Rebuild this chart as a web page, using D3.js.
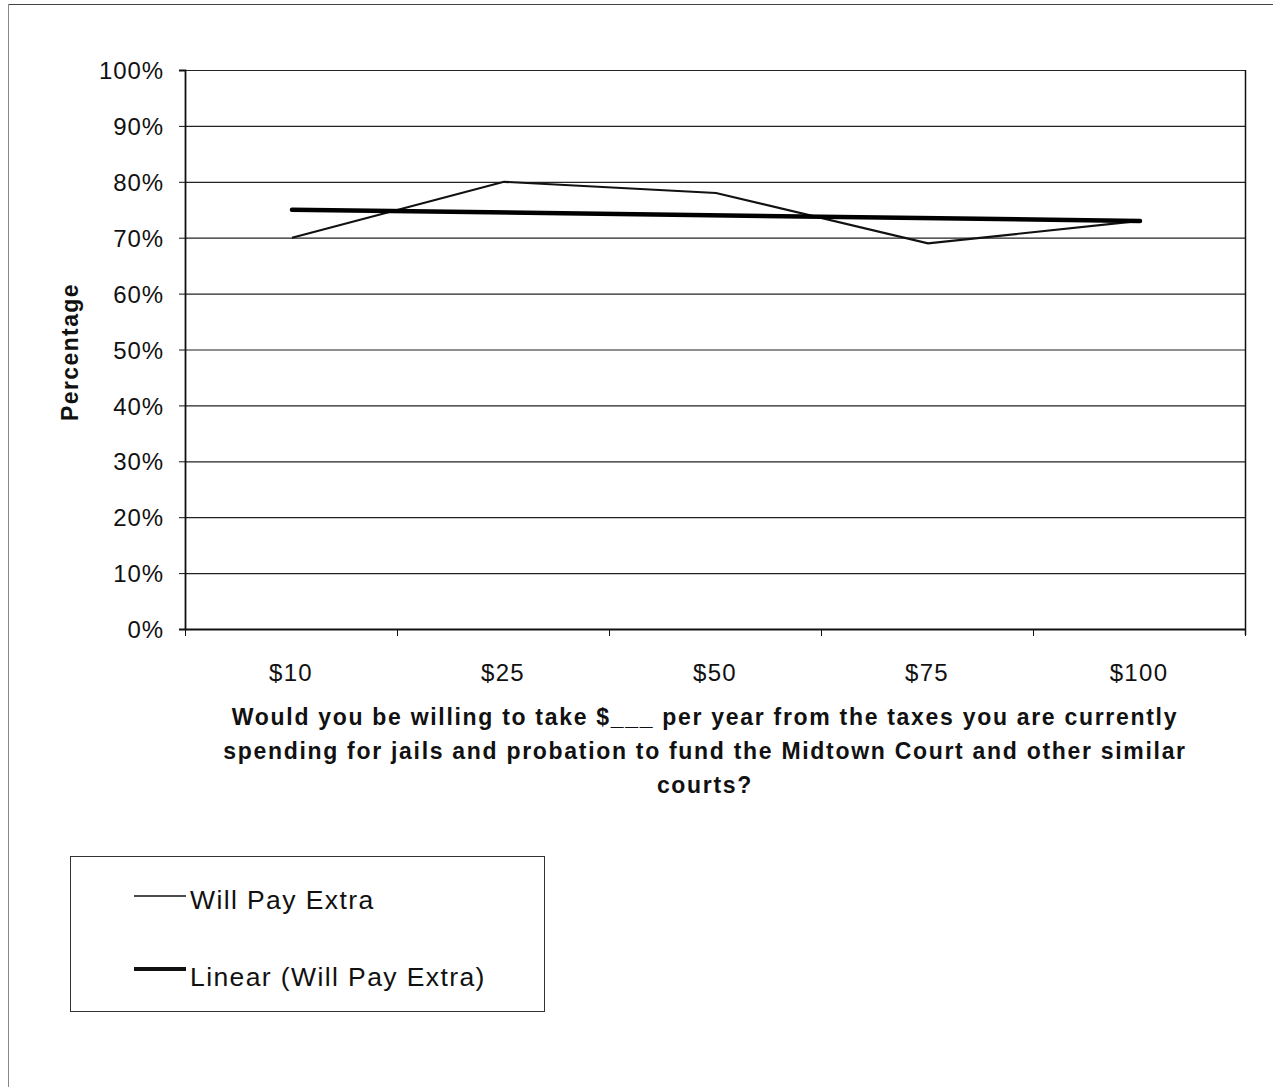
<!DOCTYPE html>
<html>
<head>
<meta charset="utf-8">
<script src="https://cdn.jsdelivr.net/npm/d3@7"></script>
<style>
  html, body { margin: 0; padding: 0; background: #fff; }
  svg text { font-family: "Liberation Sans", Arial, sans-serif; fill: #111; }
</style>
</head>
<body>
<svg id="chart" width="1273" height="1087"></svg>
<script>
// Survey answers: share of respondents willing to redirect each amount
const categories = ["$10", "$25", "$50", "$75", "$100"];
const willPayExtra = [70, 80, 78, 69, 73];
const yTicks = [0, 10, 20, 30, 40, 50, 60, 70, 80, 90, 100];
const seriesName = "Will Pay Extra";
const trendName = "Linear (Will Pay Extra)";
const yTitle = "Percentage";
const xTitleLines = [
  "Would you be willing to take $___ per year from the taxes you are currently",
  "spending for jails and probation to fund the Midtown Court and other similar",
  "courts?"
];

const svg = d3.select("#chart");
const plot = { left: 185, right: 1245, top: 70, bottom: 629 };
const FONT = "'Liberation Sans', Arial, sans-serif";

// Outer frame
svg.append("line").attr("x1", 8).attr("x2", 1273).attr("y1", 4.5).attr("y2", 4.5)
  .attr("stroke", "#444").attr("stroke-width", 1);
svg.append("line").attr("x1", 8.5).attr("x2", 8.5).attr("y1", 4).attr("y2", 1087)
  .attr("stroke", "#888").attr("stroke-width", 1);

const x = d3.scaleBand().domain(categories).range([plot.left, plot.right]).padding(0);
const y = d3.scaleLinear().domain([0, 100]).range([plot.bottom, plot.top]);

// Horizontal gridlines
svg.append("g").selectAll("line").data(yTicks).join("line")
  .attr("x1", plot.left).attr("x2", plot.right)
  .attr("y1", d => y(d) + 0.5).attr("y2", d => y(d) + 0.5)
  .attr("stroke", "#222").attr("stroke-width", 1.2);

// Plot area right edge
svg.append("line").attr("x1", plot.right + 0.5).attr("x2", plot.right + 0.5)
  .attr("y1", plot.top).attr("y2", plot.bottom + 6)
  .attr("stroke", "#111").attr("stroke-width", 1.5);

// Y axis
const yAxis = d3.axisLeft(y).tickValues(yTicks).tickSize(6).tickPadding(15)
  .tickFormat(d => d + "%");
const gy = svg.append("g").attr("transform", `translate(${plot.left},0)`).call(yAxis);
gy.attr("font-size", null).attr("font-family", null);
gy.select(".domain").attr("stroke", "#111").attr("stroke-width", 1.8);
gy.selectAll(".tick line").attr("stroke", "#111");
gy.selectAll(".tick text")
  .style("font-size", "24px").style("letter-spacing", "0.9px")
  .style("font-family", FONT).attr("fill", "#111").attr("dy", "0.36em");

// X axis: ticks on category boundaries
const gx = svg.append("g").attr("transform", `translate(0,${plot.bottom})`);
gx.append("line").attr("x1", plot.left).attr("x2", plot.right)
  .attr("y1", 0.5).attr("y2", 0.5).attr("stroke", "#111").attr("stroke-width", 1.8);
const boundaries = categories.map(c => x(c)).concat([plot.right]);
gx.selectAll("line.tick").data(boundaries).join("line").attr("class", "tick")
  .attr("x1", d => d + 0.5).attr("x2", d => d + 0.5).attr("y1", 0).attr("y2", 7)
  .attr("stroke", "#111").attr("stroke-width", 1);
gx.selectAll("text").data(categories).join("text")
  .attr("x", d => x(d) + x.bandwidth() / 2).attr("y", 52)
  .attr("text-anchor", "middle")
  .style("font-size", "24px").style("letter-spacing", "1.3px")
  .text(d => d);

// Data line
const cx = d => x(d) + x.bandwidth() / 2 + 1;
const points = categories.map((c, i) => [cx(c), y(willPayExtra[i])]);
svg.append("path").datum(points)
  .attr("d", d3.line())
  .attr("fill", "none").attr("stroke", "#111").attr("stroke-width", 2.2)
  .attr("stroke-linejoin", "miter");

// Least-squares linear trend over category index
const n = willPayExtra.length;
const xs = d3.range(1, n + 1);
const mx = d3.mean(xs), my = d3.mean(willPayExtra);
const slope = d3.sum(xs, (v, i) => (v - mx) * (willPayExtra[i] - my)) /
              d3.sum(xs, v => (v - mx) * (v - mx));
const intercept = my - slope * mx;
const trend = [
  [cx(categories[0]), y(intercept + slope * xs[0])],
  [cx(categories[n - 1]), y(intercept + slope * xs[n - 1])]
];
svg.append("path").datum(trend)
  .attr("d", d3.line())
  .attr("fill", "none").attr("stroke", "#000").attr("stroke-width", 4.5)
  .attr("stroke-linecap", "round");

// Axis titles
svg.append("text")
  .attr("transform", `translate(78,352) rotate(-90)`)
  .attr("text-anchor", "middle").attr("font-weight", "bold")
  .style("font-size", "23px").style("letter-spacing", "1.4px")
  .text(yTitle);
svg.append("g").selectAll("text").data(xTitleLines).join("text")
  .attr("x", 705).attr("y", (d, i) => 725 + i * 34)
  .attr("text-anchor", "middle").attr("font-weight", "bold")
  .style("font-size", "23px").style("letter-spacing", "1.7px")
  .text(d => d);

// Legend
const lg = svg.append("g");
lg.append("rect").attr("x", 70.5).attr("y", 856.5).attr("width", 474).attr("height", 155)
  .attr("fill", "#fff").attr("stroke", "#333").attr("stroke-width", 1);
const legendItems = [
  { name: seriesName, width: 1.5, y: 896, base: 909 },
  { name: trendName, width: 4, y: 969, base: 986 }
];
legendItems.forEach(item => {
  lg.append("line").attr("x1", 134).attr("x2", 186).attr("y1", item.y).attr("y2", item.y)
    .attr("stroke", "#111").attr("stroke-width", item.width);
  lg.append("text").attr("x", 190).attr("y", item.base)
    .style("font-size", "26.5px").style("letter-spacing", "1.4px")
    .text(item.name);
});
</script>
</body>
</html>
